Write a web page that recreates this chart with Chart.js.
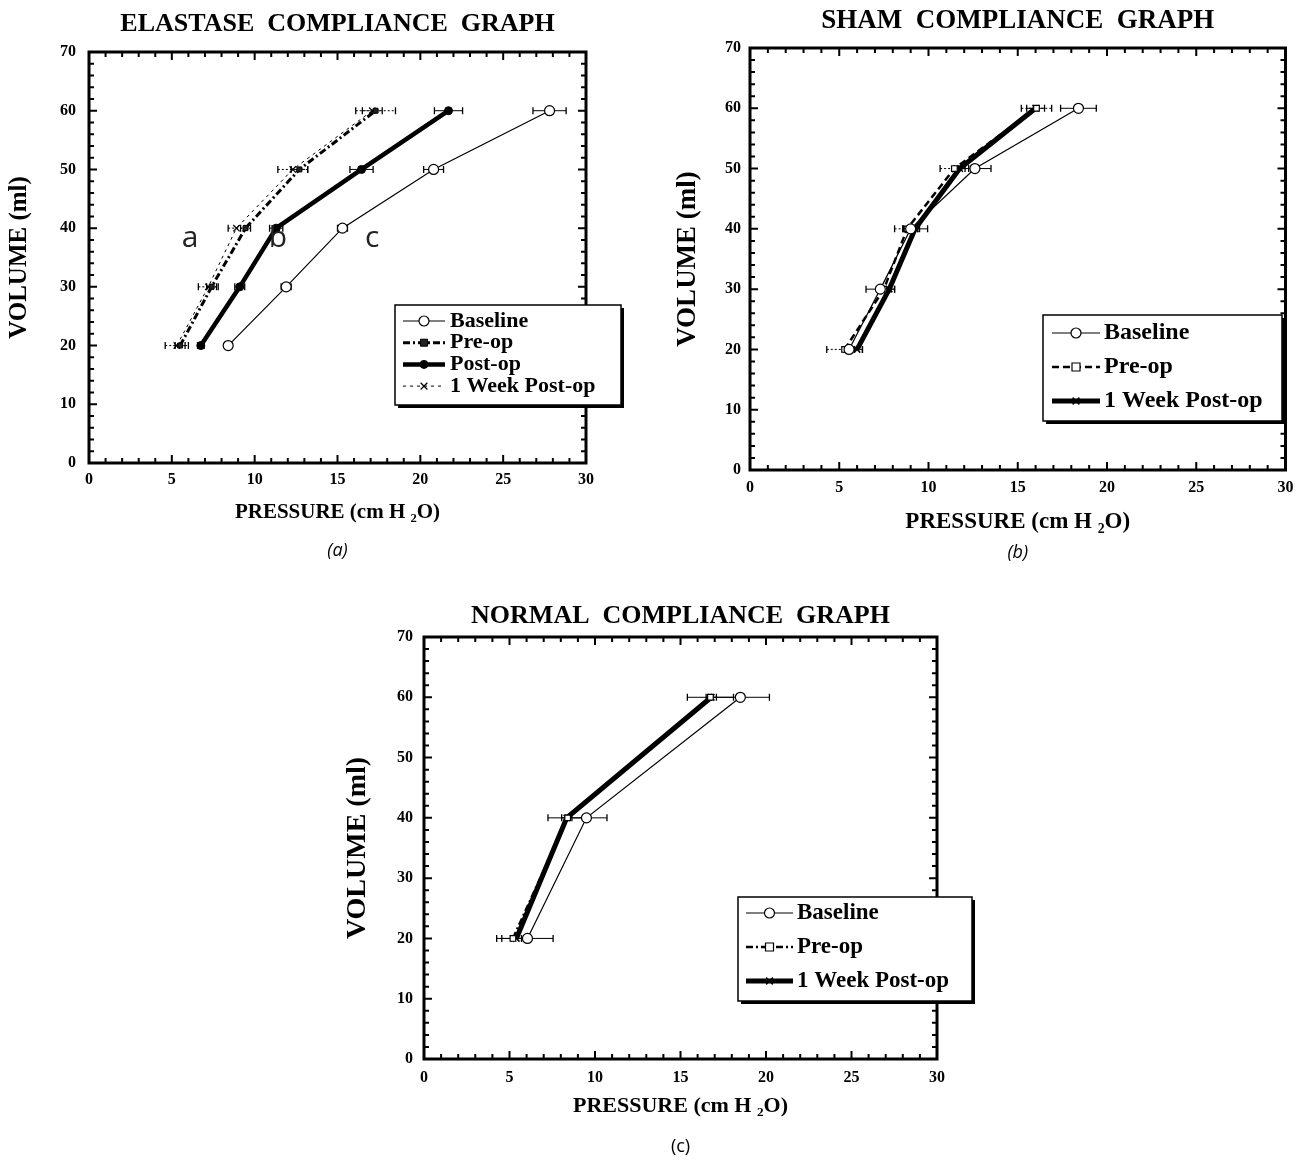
<!DOCTYPE html>
<html>
<head>
<meta charset="utf-8">
<title>Compliance graphs</title>
<script src="https://cdn.jsdelivr.net/npm/chart.js@4.4.1/dist/chart.umd.min.js"></script>
<style>
  html, body { margin: 0; padding: 0; background: #fff; }
  body { position: relative; width: 1302px; height: 1162px; overflow: hidden; }
  canvas { position: absolute; }
</style>
</head>
<body>
<canvas id="elastaseChart" width="650" height="566" style="left:0;top:0"></canvas>
<canvas id="shamChart" width="650" height="568" style="left:652px;top:0"></canvas>
<canvas id="normalChart" width="700" height="582" style="left:320px;top:580px"></canvas>
<script>
// volume steps (ml)
const volumes = [20, 30, 40, 50, 60];
const normalVolumes = [20, 40, 60];

// axis ticks
const pressureTicks = [0, 5, 10, 15, 20, 25, 30];
const volumeTicks = [0, 10, 20, 30, 40, 50, 60, 70];

// elastase group: pressure (cm H2O) and +/- error
const elastaseBaseline = [8.4, 11.9, 15.3, 20.8, 27.8];
const elastaseBaselineErr = [0.2, 0.3, 0.3, 0.6, 1.0];
const elastasePreOp = [5.5, 7.4, 9.45, 12.7, 17.3];
const elastasePreOpErr = [0.3, 0.3, 0.3, 0.5, 1.2];
const elastasePostOp = [6.75, 9.1, 11.3, 16.45, 21.7];
const elastasePostOpErr = [0.2, 0.3, 0.4, 0.7, 0.85];
const elastaseWeek = [5.3, 7.2, 8.9, 12.3, 17.1];
const elastaseWeekErr = [0.7, 0.6, 0.5, 0.9, 0.6];

// sham group
const shamBaseline = [5.55, 7.3, 9.0, 12.6, 18.4];
const shamBaselineErr = [0.3, 0.8, 0.4, 0.9, 1.0];
const shamPreOp = [5.3, 7.5, 8.8, 11.45, 16.05];
const shamPreOpErr = [1.0, 0.4, 0.7, 0.8, 0.85];
const shamWeek = [6.0, 7.8, 9.25, 11.75, 16.0];
const shamWeekErr = [0.3, 0.3, 0.7, 0.3, 0.5];

// normal group
const normalBaseline = [6.05, 9.5, 18.5];
const normalBaselineErr = [1.5, 1.2, 1.7];
const normalPreOp = [5.2, 8.4, 16.75];
const normalPreOpErr = [0.95, 1.15, 1.35];
const normalWeek = [5.4, 8.35, 16.8];
const normalWeekErr = [0.3, 0.3, 0.3];

const SERIF = "'Liberation Serif', 'Times New Roman', serif";
const SANS = "'Open Sans', 'Noto Sans', sans-serif";

Chart.defaults.color = '#000';
Chart.defaults.font.family = SERIF;

function drawMarker(ctx, style, r, x, y, fill, lw) {
  ctx.save();
  ctx.setLineDash([]);
  ctx.lineWidth = lw;
  ctx.strokeStyle = '#000';
  ctx.fillStyle = fill;
  ctx.beginPath();
  if (style === 'circle') {
    ctx.arc(x, y, r, 0, Math.PI * 2);
    ctx.fill();
    ctx.stroke();
  } else if (style === 'rect') {
    ctx.rect(x - r, y - r, r * 2, r * 2);
    ctx.fill();
    ctx.stroke();
  } else {
    const d = r * 0.75;
    ctx.moveTo(x - d, y - d); ctx.lineTo(x + d, y + d);
    ctx.moveTo(x + d, y - d); ctx.lineTo(x - d, y + d);
    ctx.stroke();
  }
  ctx.restore();
}

// error bars go under the lines, frame and ticks on top
const frameAndErrors = {
  id: 'frameAndErrors',
  beforeDatasetsDraw(chart) {
    const { ctx, scales: { x, y } } = chart;
    ctx.save();
    ctx.strokeStyle = '#000';
    chart.data.datasets.forEach((ds) => {
      if (!ds.errors) return;
      ds.data.forEach((pt, i) => {
        const e = ds.errors[i];
        const xl = x.getPixelForValue(pt.x - e);
        const xr = x.getPixelForValue(pt.x + e);
        const py = y.getPixelForValue(pt.y);
        ctx.lineWidth = 1;
        ctx.setLineDash(ds.errorDash || []);
        ctx.beginPath();
        ctx.moveTo(xl, py);
        ctx.lineTo(xr, py);
        ctx.stroke();
        ctx.setLineDash([]);
        ctx.lineWidth = 1.3;
        ctx.beginPath();
        ctx.moveTo(xl, py - 3.5); ctx.lineTo(xl, py + 3.5);
        ctx.moveTo(xr, py - 3.5); ctx.lineTo(xr, py + 3.5);
        ctx.stroke();
      });
    });
    ctx.restore();
  },
  afterDatasetsDraw(chart, args, opts) {
    const { ctx, chartArea: a, scales: { x, y } } = chart;
    ctx.save();
    ctx.strokeStyle = '#000';
    ctx.setLineDash([]);
    ctx.lineWidth = 2;
    ctx.beginPath();
    for (let v = x.min; v <= x.max; v += 1) {
      const px = x.getPixelForValue(v);
      const len = v % 5 === 0 ? 8 : 5;
      ctx.moveTo(px, a.bottom); ctx.lineTo(px, a.bottom - len);
      ctx.moveTo(px, a.top); ctx.lineTo(px, a.top + len);
    }
    for (let v = y.min; v <= y.max; v += 2) {
      const py = y.getPixelForValue(v);
      const len = v % 10 === 0 ? 8 : 5;
      ctx.moveTo(a.left, py); ctx.lineTo(a.left + len, py);
      ctx.moveTo(a.right, py); ctx.lineTo(a.right - len, py);
    }
    ctx.stroke();

    ctx.lineWidth = 3;
    ctx.strokeRect(a.left, a.top, a.right - a.left, a.bottom - a.top);

    (opts.letters || []).forEach((l) => {
      ctx.font = '30px ' + SANS;
      ctx.fillStyle = '#222';
      ctx.textAlign = 'center';
      ctx.textBaseline = 'middle';
      ctx.fillText(l.text, x.getPixelForValue(l.x), y.getPixelForValue(l.y));
    });
    ctx.restore();
  }
};

// boxed legend with drop shadow
const boxLegend = {
  id: 'boxLegend',
  afterDraw(chart, args, o) {
    const ctx = chart.ctx;
    ctx.save();
    ctx.fillStyle = '#000';
    ctx.fillRect(o.left + 3, o.top + 3, o.width, o.height);
    ctx.fillStyle = '#fff';
    ctx.fillRect(o.left, o.top, o.width, o.height);
    ctx.strokeStyle = '#000';
    ctx.lineWidth = 1.5;
    ctx.strokeRect(o.left, o.top, o.width, o.height);

    chart.data.datasets.forEach((ds, i) => {
      const y = o.top + o.rowTop + i * o.rowGap;
      const x1 = o.left + o.lineX1;
      const x2 = o.left + o.lineX2;
      ctx.strokeStyle = '#000';
      ctx.lineWidth = ds.borderWidth;
      ctx.setLineDash(ds.borderDash || []);
      ctx.beginPath();
      ctx.moveTo(x1, y);
      ctx.lineTo(x2, y);
      ctx.stroke();
      drawMarker(ctx, ds.pointStyle, ds.pointRadius, (x1 + x2) / 2, y,
        ds.pointBackgroundColor, ds.pointBorderWidth);
      ctx.setLineDash([]);
      ctx.fillStyle = '#000';
      ctx.font = 'bold ' + o.fontSize + 'px ' + SERIF;
      ctx.textAlign = 'left';
      ctx.textBaseline = 'middle';
      ctx.fillText(ds.label, o.left + o.textX, y);
    });
    ctx.restore();
  }
};

function series(label, pressures, vols, errs, style) {
  return Object.assign({
    label: label,
    data: pressures.map((p, i) => ({ x: p, y: vols[i] })),
    errors: errs,
    showLine: true,
    borderColor: '#000',
    pointBorderColor: '#000',
    pointHoverRadius: 0
  }, style);
}

const baselineStyle = { borderWidth: 1.2, pointStyle: 'circle', pointRadius: 5, pointBackgroundColor: '#fff', pointBorderWidth: 1.2 };
const postOpStyle = { borderWidth: 4.5, pointStyle: 'circle', pointRadius: 4, pointBackgroundColor: '#000', pointBorderWidth: 1 };
const elastasePreStyle = { borderWidth: 3, borderDash: [7, 3, 2, 3], pointStyle: 'rect', pointRadius: 3.5, pointBackgroundColor: '#222', pointBorderWidth: 1, errorDash: [2, 2] };
const elastaseWeekStyle = { borderWidth: 1, borderDash: [3, 4], pointStyle: 'crossRot', pointRadius: 4.5, pointBackgroundColor: '#fff', pointBorderWidth: 1.2, errorDash: [2, 2] };
const shamPreStyle = { borderWidth: 2.5, borderDash: [7, 4], pointStyle: 'rect', pointRadius: 4, pointBackgroundColor: '#fff', pointBorderWidth: 1.2, errorDash: [2, 2] };
const normalPreStyle = { borderWidth: 2.5, borderDash: [7, 3, 2, 3], pointStyle: 'rect', pointRadius: 4, pointBackgroundColor: '#fff', pointBorderWidth: 1.2 };
const weekThickStyle = { borderWidth: 5, pointStyle: 'crossRot', pointRadius: 4.5, pointBackgroundColor: '#fff', pointBorderWidth: 1.5 };

function makeChart(id, c) {
  return new Chart(document.getElementById(id), {
    type: 'scatter',
    data: { datasets: c.datasets },
    options: {
      responsive: false,
      animation: false,
      devicePixelRatio: 1,
      events: [],
      layout: { padding: { left: 0, right: c.padRight, top: 0, bottom: 0 } },
      plugins: {
        legend: { display: false },
        tooltip: { enabled: false },
        title: {
          display: true,
          text: c.title,
          fullSize: false,
          font: { family: SERIF, size: c.titleSize, weight: 'bold' },
          padding: c.titlePad
        },
        subtitle: {
          display: true,
          position: 'bottom',
          text: c.caption,
          fullSize: false,
          font: { family: SANS, size: 18, weight: 'normal', style: c.captionStyle },
          padding: c.captionPad
        },
        frameAndErrors: { letters: c.letters },
        boxLegend: c.legend
      },
      scales: {
        x: {
          type: 'linear',
          min: pressureTicks[0],
          max: pressureTicks[pressureTicks.length - 1],
          afterBuildTicks: (s) => { s.ticks = pressureTicks.map((v) => ({ value: v })); },
          ticks: { padding: c.xTickPad, maxRotation: 0, font: { family: SERIF, size: 16, weight: 'bold' } },
          grid: { display: false, drawTicks: false },
          border: { display: false },
          title: {
            display: true,
            text: 'PRESSURE (cm H \u2082O)',
            font: { family: SERIF, size: c.xTitleSize, weight: 'bold' },
            padding: { top: 0, bottom: c.xTitlePadBottom }
          },
          afterFit: (s) => { s.height = c.xHeight; }
        },
        y: {
          type: 'linear',
          min: volumeTicks[0],
          max: volumeTicks[volumeTicks.length - 1],
          afterBuildTicks: (s) => { s.ticks = volumeTicks.map((v) => ({ value: v })); },
          ticks: { padding: c.yTickPad, font: { family: SERIF, size: 16, weight: 'bold' } },
          grid: { display: false, drawTicks: false },
          border: { display: false },
          title: {
            display: true,
            text: 'VOLUME (ml)',
            font: { family: SERIF, size: c.yTitleSize, weight: 'bold' },
            padding: { top: c.yTitlePadTop, bottom: 0 }
          },
          afterFit: (s) => { s.width = c.yWidth; }
        }
      }
    },
    plugins: [frameAndErrors, boxLegend]
  });
}

makeChart('elastaseChart', {
  title: 'ELASTASE  COMPLIANCE  GRAPH',
  titleSize: 26,
  titlePad: { top: 8.4, bottom: 12.4 },
  caption: '(a)',
  captionStyle: 'italic',
  captionPad: { top: 12.4, bottom: 4 },
  padRight: 64,
  yWidth: 89,
  yTickPad: 13,
  yTitleSize: 25,
  yTitlePadTop: 5,
  xHeight: 65,
  xTickPad: 7.5,
  xTitleSize: 21,
  xTitlePadBottom: 2.4,
  letters: [
    { text: 'a', x: 6.1, y: 38.3 },
    { text: 'b', x: 11.4, y: 38.3 },
    { text: 'c', x: 17.1, y: 38.3 }
  ],
  legend: { left: 395, top: 305, width: 226, height: 100, rowTop: 16, rowGap: 21.7, lineX1: 8, lineX2: 50, textX: 55, fontSize: 22 },
  datasets: [
    series('Baseline', elastaseBaseline, volumes, elastaseBaselineErr, baselineStyle),
    series('Pre-op', elastasePreOp, volumes, elastasePreOpErr, elastasePreStyle),
    series('Post-op', elastasePostOp, volumes, elastasePostOpErr, postOpStyle),
    series('1 Week Post-op', elastaseWeek, volumes, elastaseWeekErr, elastaseWeekStyle)
  ]
});

makeChart('shamChart', {
  title: 'SHAM  COMPLIANCE  GRAPH',
  titleSize: 27,
  titlePad: { top: 4.8, bottom: 10.8 },
  caption: '(b)',
  captionStyle: 'italic',
  captionPad: { top: 4.4, bottom: 4 },
  padRight: 11,
  yWidth: 98,
  yTickPad: 9,
  yTitleSize: 27,
  yTitlePadTop: 19.8,
  xHeight: 68,
  xTickPad: 8.5,
  xTitleSize: 23,
  xTitlePadBottom: 2.2,
  legend: { left: 391, top: 315, width: 239, height: 106, rowTop: 18, rowGap: 34, lineX1: 9, lineX2: 57, textX: 61, fontSize: 24 },
  datasets: [
    series('Baseline', shamBaseline, volumes, shamBaselineErr, baselineStyle),
    series('Pre-op', shamPreOp, volumes, shamPreOpErr, shamPreStyle),
    series('1 Week Post-op', shamWeek, volumes, shamWeekErr, weekThickStyle)
  ]
});

makeChart('normalChart', {
  title: 'NORMAL  COMPLIANCE  GRAPH',
  titleSize: 26,
  titlePad: { top: 20.4, bottom: 5.4 },
  caption: '(c)',
  captionStyle: 'normal',
  captionPad: { top: 14.4, bottom: 4 },
  padRight: 83,
  yWidth: 104,
  yTickPad: 11,
  yTitleSize: 28,
  yTitlePadTop: 21.2,
  xHeight: 63,
  xTickPad: 9.5,
  xTitleSize: 22,
  xTitlePadBottom: 2.8,
  legend: { left: 418, top: 317, width: 234, height: 104, rowTop: 16, rowGap: 34, lineX1: 8, lineX2: 55, textX: 59, fontSize: 23 },
  datasets: [
    series('Baseline', normalBaseline, normalVolumes, normalBaselineErr, baselineStyle),
    series('Pre-op', normalPreOp, normalVolumes, normalPreOpErr, normalPreStyle),
    series('1 Week Post-op', normalWeek, normalVolumes, normalWeekErr, weekThickStyle)
  ]
});
</script>
</body>
</html>
